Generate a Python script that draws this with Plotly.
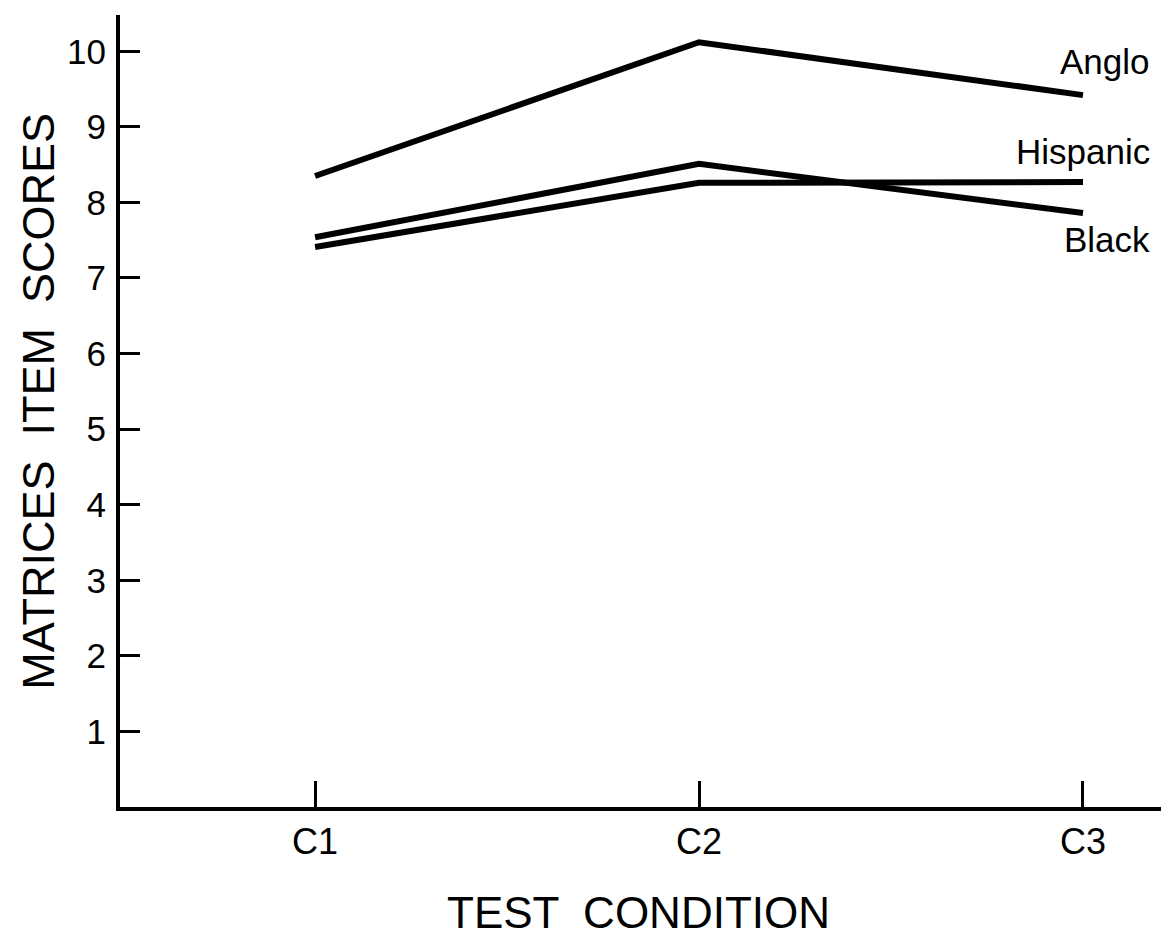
import plotly.graph_objects as go

conditions = ["C1", "C2", "C3"]
condition_pos = [1, 2, 3]
anglo = [8.35, 10.12, 9.42]
hispanic = [7.41, 8.26, 8.27]
black = [7.54, 8.51, 7.86]
y_ticks = [1, 2, 3, 4, 5, 6, 7, 8, 9, 10]

series = [("Anglo", anglo), ("Hispanic", hispanic), ("Black", black)]
label_offsets = {"Anglo": 0.45, "Hispanic": 0.41, "Black": -0.35}

FONT = "Liberation Sans"

fig = go.Figure()
for name, vals in series:
    fig.add_trace(go.Scatter(
        x=condition_pos, y=vals, mode="lines", name=name,
        line=dict(color="black", width=6), showlegend=False,
        hoverinfo="skip"))

for name, vals in series:
    fig.add_annotation(
        x=3.18, y=vals[-1] + label_offsets[name], xref="x", yref="y",
        text=name, showarrow=False, xanchor="right", yanchor="middle",
        font=dict(family=FONT, size=35, color="black"))

# axis titles
fig.add_annotation(
    x=-0.078, y=0.512, xref="paper", yref="paper",
    text="MATRICES  ITEM  SCORES", textangle=-90, showarrow=False,
    xanchor="center", yanchor="middle",
    font=dict(family=FONT, size=45, color="black"))
fig.add_annotation(
    x=0.494, y=-0.133, xref="paper", yref="paper",
    text="TEST  CONDITION", showarrow=False,
    xanchor="center", yanchor="middle",
    font=dict(family=FONT, size=44, color="black"))

# page body has an 8px default margin, so the figure is 8px smaller
fig.update_layout(
    width=1161, height=929,
    margin=dict(l=112, r=0, t=7, b=130, autoexpand=False),
    paper_bgcolor="white", plot_bgcolor="white",
    font=dict(family=FONT, color="black"),
)

fig.update_xaxes(
    range=[0.492, 3.224], tickmode="array", tickvals=condition_pos,
    ticktext=conditions, ticks="inside", ticklen=26, tickwidth=3,
    tickcolor="black", showline=True, linecolor="black", linewidth=4,
    showgrid=False, zeroline=False, automargin=False,
    tickfont=dict(family=FONT, size=36, color="black"),
)
fig.update_yaxes(
    range=[0, 10.48], tickmode="array", tickvals=y_ticks,
    ticktext=[str(v) for v in y_ticks], ticks="inside", ticklen=20,
    tickwidth=3, tickcolor="black", showline=True, linecolor="black",
    linewidth=4, showgrid=False, zeroline=False, automargin=False,
    ticklabelstandoff=3,
    tickfont=dict(family=FONT, size=35, color="black"),
)

fig.write_html("out.html")
